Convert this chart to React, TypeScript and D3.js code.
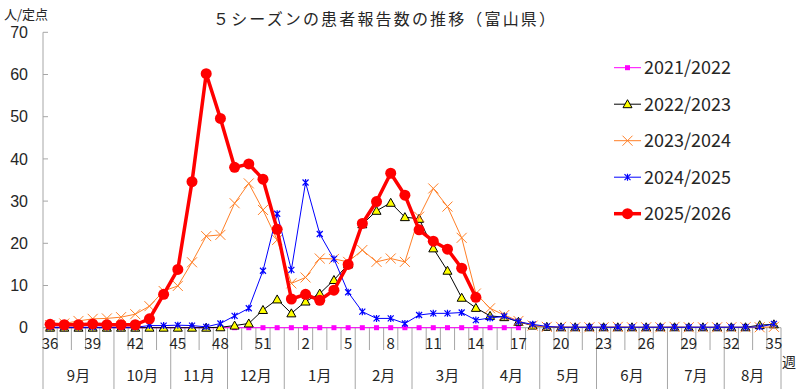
import React from 'react';
import * as d3 from 'd3';

// 週 (9月第36週 → 翌年8月第35週)
const weeks = [
  36, 37, 38, 39, 40, 41, 42, 43, 44, 45, 46, 47, 48, 49, 50, 51, 52,
  1, 2, 3, 4, 5, 6, 7, 8, 9, 10, 11, 12, 13, 14, 15, 16, 17, 18, 19, 20,
  21, 22, 23, 24, 25, 26, 27, 28, 29, 30, 31, 32, 33, 34, 35,
];
const monthNames = ['9月', '10月', '11月', '12月', '1月', '2月', '3月', '4月', '5月', '6月', '7月', '8月'];
const monthWeekCounts = [5, 4, 4, 4, 5, 4, 5, 4, 4, 5, 4, 4];
const yTicks = [0, 10, 20, 30, 40, 50, 60, 70];

const s2021 = [
  0, 0, 0, 0, 0, 0, 0, 0, 0, 0, 0, 0, 0, 0, 0, 0, 0,
  0, 0, 0, 0, 0, 0, 0, 0, 0, 0, 0, 0, 0, 0, 0, 0, 0,
];
const s2022 = [
  0, 0, 0, 0, 0, 0, 0, 0, 0, 0, 0, 0, 0.1, 0.5, 1.0, 4.2, 6.7,
  3.4, 6.2, 8.1, 11.3, 15.0, 24.5, 27.7, 29.6, 26.2, 25.8, 18.8, 13.5, 7.1, 4.7, 2.8, 2.5, 1.4, 0.5,
  0.2, 0.1, 0.1, 0.1, 0.1, 0.1, 0.1, 0.1, 0.1, 0.1, 0.1, 0.1, 0.1, 0.1, 0.1, 0.6, 0.8,
];
const s2023 = [
  0.6, 1.0, 1.6, 2.1, 2.2, 2.5, 3.2, 5.1, 8.7, 9.9, 15.5, 21.7, 22.0, 29.5, 34.2, 27.9, 20.8,
  10.5, 11.9, 16.4, 16.3, 15.6, 18.4, 15.6, 16.4, 15.6, 26.3, 33.0, 28.7, 21.3, 8.1, 4.6, 3.0, 1.6, 0.5,
  0.2, 0.2, 0.1, 0.1, 0.1, 0.2, 0.1, 0.1, 0.1, 0.2, 0.1, 0.1, 0.1, 0.1, 0.1, 0.1, 0.2,
];
const s2024 = [
  0.1, 0.1, 0.1, 0.1, 0.1, 0.1, 0.1, 0.5, 0.5, 0.6, 0.5, 0.2, 1.0, 2.8, 4.6, 13.5, 27.0,
  13.7, 34.4, 22.2, 16.3, 8.4, 3.8, 2.2, 2.2, 1.0, 3.0, 3.4, 3.4, 3.6, 1.8, 2.3, 2.7, 1.4, 0.8,
  0.3, 0.1, 0.1, 0.1, 0.1, 0.1, 0.1, 0.1, 0.1, 0.1, 0.1, 0.1, 0.1, 0.1, 0.1, 0.2, 0.9,
];
const s2025 = [
  0.8, 0.7, 0.7, 0.9, 0.7, 0.7, 0.7, 2.1, 7.9, 13.8, 34.6, 60.2, 49.6, 38.0, 38.8, 35.2, 23.3,
  6.8, 7.9, 6.5, 8.9, 15.0, 24.7, 29.9, 36.6, 31.4, 23.2, 20.5, 18.6, 14.1, 7.2,
];

const seriesNames = ['2021/2022', '2022/2023', '2023/2024', '2024/2025', '2025/2026'];
const seriesValues = [s2021, s2022, s2023, s2024, s2025];
const seriesColors = ['#FF00FF', '#000000', '#FF7F27', '#0000FF', '#FF0000'];
const seriesWidths = [1, 1, 1, 1, 3.5];
const markerTypes = ['square', 'triangle', 'cross', 'asterisk', 'circle'];

const FONT = '"Noto Sans CJK JP", "Noto Sans", sans-serif';
const NUM_FONT = '"Liberation Sans", Arial, sans-serif';
const TEXT = '#262626';
const AXIS = '#A6A6A6';

const Marker = ({ type, x, y, color }: { type: string; x: number; y: number; color: string }) => {
  if (type === 'square') return <rect x={x - 2.5} y={y - 2.5} width={5} height={5} fill={color} />;
  if (type === 'triangle')
    return (
      <path
        d={`M${x},${y - 4.5}L${x + 4.5},${y + 3.5}L${x - 4.5},${y + 3.5}Z`}
        fill="#FFFF00"
        stroke="#000"
        strokeWidth={1}
      />
    );
  if (type === 'cross')
    return (
      <path
        d={`M${x - 5},${y - 5}L${x + 5},${y + 5}M${x - 5},${y + 5}L${x + 5},${y - 5}`}
        stroke={color}
        strokeWidth={1}
      />
    );
  if (type === 'asterisk')
    return (
      <path
        d={`M${x - 3},${y - 3}L${x + 3},${y + 3}M${x - 3},${y + 3}L${x + 3},${y - 3}M${x},${y - 3.5}L${x},${y + 3.5}`}
        stroke={color}
        strokeWidth={1.2}
      />
    );
  return <circle cx={x} cy={y} r={5.5} fill={color} />;
};

export default function App() {
  const W = 800;
  const H = 389;
  const left = 43;
  const right = 781;
  const y0 = 327.7;

  const x = d3
    .scaleBand<number>()
    .domain(d3.range(weeks.length))
    .range([left, right])
    .padding(0);
  const bw = x.bandwidth();
  const cx = (i: number) => (x(i) as number) + bw / 2;
  const y = d3.scaleLinear().domain([0, 70]).range([y0, 32.3]);

  const line = d3
    .line<number>()
    .x((_, i) => cx(i))
    .y((d) => y(d));

  // month boundaries (indices)
  const monthStarts: number[] = [];
  let acc = 0;
  monthWeekCounts.forEach((c) => {
    monthStarts.push(acc);
    acc += c;
  });

  const legendY0 = 67.7;
  const legendStep = 36.5;

  return (
    <svg
      width={W}
      height={H}
      style={{ position: 'absolute', left: 0, top: 0, background: '#fff' }}
      fontFamily={FONT}
    >
      <rect width={W} height={H} fill="#fff" />
      {/* title */}
      <text x={213} y={25} fontSize={16} fill={TEXT} textLength={342} lengthAdjust="spacing">
        ５シーズンの患者報告数の推移（富山県）
      </text>
      <text x={4} y={18.5} fontSize={13} fill={TEXT}>
        人/定点
      </text>

      {/* y axis */}
      <line x1={left} x2={left} y1={y(70)} y2={H} stroke={AXIS} />
      {yTicks.map((t) => (
        <g key={t}>
          <line x1={left} x2={left + 5} y1={y(t)} y2={y(t)} stroke={AXIS} />
          <text
            x={28}
            y={y(t)}
            dy="0.36em"
            textAnchor="end"
            fontSize={16}
            fontFamily={NUM_FONT}
            fill={TEXT}
          >
            {t}
          </text>
        </g>
      ))}

      {/* x axis */}
      <line x1={left} x2={right} y1={y0} y2={y0} stroke={AXIS} />
      {weeks.map((w, i) =>
        i === 0 ? null : (
          <line
            key={'t' + i}
            x1={x(i) as number}
            x2={x(i) as number}
            y1={y0}
            y2={monthStarts.includes(i) ? H : 350}
            stroke={AXIS}
          />
        )
      )}
      <line x1={right} x2={right} y1={y0} y2={H} stroke={AXIS} />
      {weeks.map((w, i) =>
        i % 3 === 0 ? (
          <text key={'w' + i} x={cx(i)} y={349} textAnchor="middle" fontSize={15} fill={TEXT}>
            {w}
          </text>
        ) : null
      )}
      {monthNames.map((m, k) => {
        const s = monthStarts[k];
        const e = s + monthWeekCounts[k];
        const mx = ((x(s) as number) + (e < weeks.length ? (x(e) as number) : right)) / 2;
        return (
          <text key={m} x={mx} y={381} textAnchor="middle" fontSize={15} fill={TEXT}>
            {m}
          </text>
        );
      })}
      <text x={782} y={367} fontSize={14} fill={TEXT}>
        週
      </text>

      {/* series */}
      {seriesValues.map((vals, si) => (
        <g key={seriesNames[si]}>
          <path
            d={line(vals) || ''}
            fill="none"
            stroke={seriesColors[si]}
            strokeWidth={seriesWidths[si]}
            strokeLinejoin="round"
          />
          {vals.map((v, i) => (
            <Marker key={i} type={markerTypes[si]} x={cx(i)} y={y(v)} color={seriesColors[si]} />
          ))}
        </g>
      ))}

      {/* legend */}
      {seriesNames.map((n, si) => {
        const ly = legendY0 + si * legendStep;
        return (
          <g key={'lg' + n}>
            <line x1={614} x2={641} y1={ly} y2={ly} stroke={seriesColors[si]} strokeWidth={seriesWidths[si]} />
            <Marker type={markerTypes[si]} x={627.5} y={ly} color={seriesColors[si]} />
            <text x={644} y={ly} dy="0.36em" fontSize={18} fill={TEXT}>
              {n}
            </text>
          </g>
        );
      })}
    </svg>
  );
}
